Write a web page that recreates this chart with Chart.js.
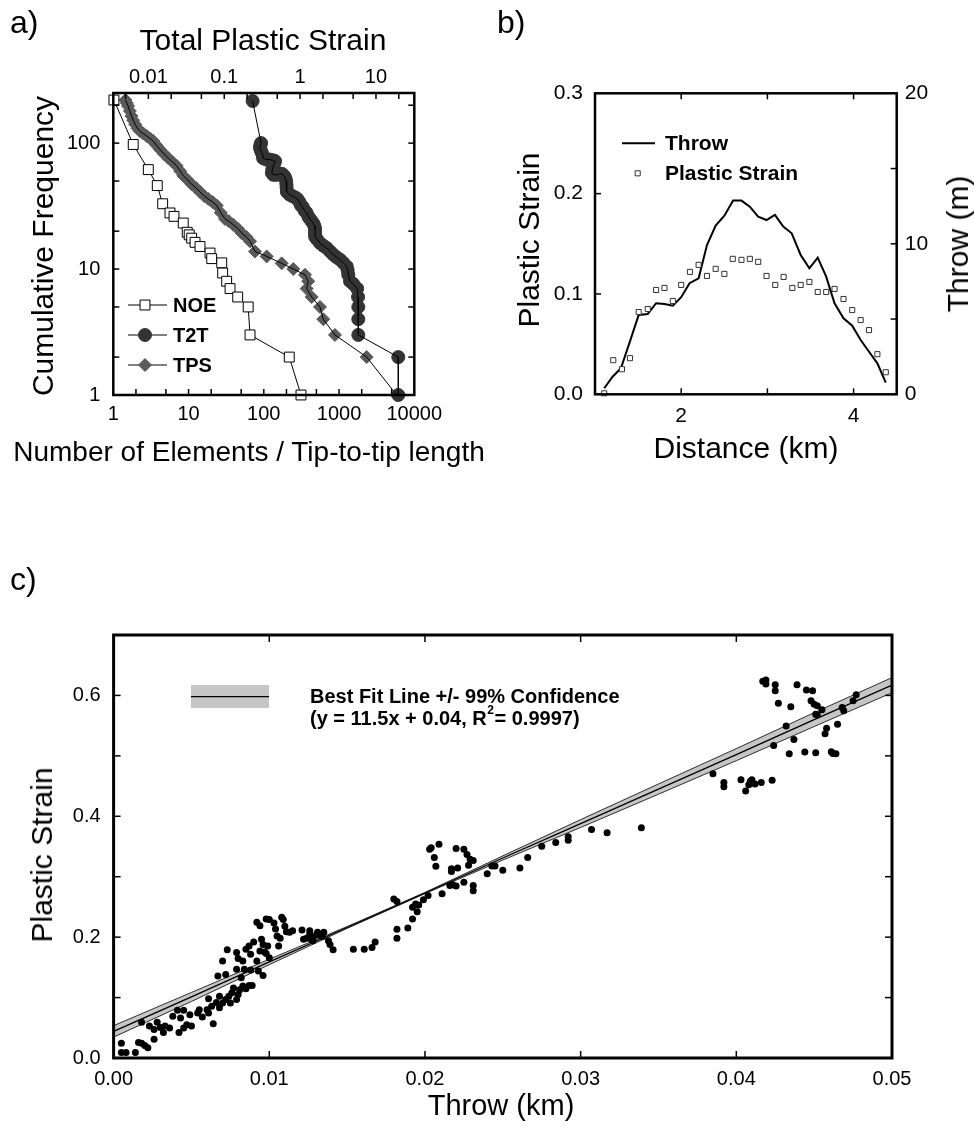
<!DOCTYPE html>
<html>
<head>
<meta charset="utf-8">
<script src="https://cdn.jsdelivr.net/npm/chart.js@4.4.1/dist/chart.umd.min.js"></script>
<style>
  body { margin: 0; background: #fff; }
  #wrap { position: relative; width: 974px; height: 1131px; font-family: 'Liberation Sans', Arial, sans-serif; color: #000; }
  canvas { position: absolute; }
  .lbl { position: absolute; white-space: nowrap; font-size: 32px; line-height: 32px; }
  .ttl { position: absolute; white-space: nowrap; font-size: 30px; line-height: 30px; transform: translate(-50%, -50%); }
  .rot { transform: translate(-50%, -50%) rotate(-90deg); }
</style>
</head>
<body>
<div id="wrap">
  <canvas id="ca" width="480" height="470" style="left:0;top:0"></canvas>
  <canvas id="cb" width="494" height="470" style="left:480px;top:0"></canvas>
  <canvas id="cc" width="974" height="571" style="left:0;top:560px"></canvas>

  <div class="lbl" style="left:10px;top:6px">a)</div>
  <div class="lbl" style="left:497px;top:6px">b)</div>
  <div class="lbl" style="left:10px;top:563px">c)</div>

  <div class="ttl" style="left:263px;top:40px">Total Plastic Strain</div>
  <div class="ttl rot" style="left:43px;top:246px">Cumulative Frequency</div>
  <div class="ttl" style="left:249px;top:452px;font-size:28px">Number of Elements / Tip-to-tip length</div>

  <div class="ttl rot" style="left:529px;top:240px">Plastic Strain</div>
  <div class="ttl rot" style="left:958px;top:244px">Throw (m)</div>
  <div class="ttl" style="left:746px;top:448px">Distance (km)</div>

  <div class="ttl rot" style="left:42px;top:855px">Plastic Strain</div>
  <div class="ttl" style="left:501px;top:1105px;font-size:29px">Throw (km)</div>
</div>

<script>
// ---- a) cumulative frequency ----
const noeX = [1.02, 1.84, 2.92, 3.84, 4.53, 5.67, 6.41, 8.5, 9.6, 10.2, 11, 12.2, 14.2, 19.3, 20.3, 27.6, 28.4, 32.1, 35.6, 45, 62, 65.6, 218, 312];
const noeY = [220, 97.5, 61.6, 46, 33, 27.9, 26.2, 23.2, 19.6, 18.7, 17.6, 16.3, 15.1, 13.4, 12.1, 11.2, 9.3, 8, 7, 6, 5, 3, 2, 1];

const t2tX = [71, 92, 90, 89, 91, 94, 97, 98, 108, 120, 133, 141, 138, 134, 130, 128, 134, 148, 162, 175,
  186, 193, 198, 200, 201, 203, 220, 240, 262, 280, 298, 312, 330, 350, 370, 392, 411, 432, 455, 470,
  479, 480, 479, 482, 510, 558, 620, 685, 760, 840, 930, 1030, 1140, 1264, 1300, 1327, 1400, 1550, 1740, 1790,
  1803, 1803, 1803, 6130, 6130];
const t2tY = [216, 100, 96, 92, 88, 84, 80, 76, 74, 74, 73, 72, 69, 66, 62, 58, 56, 56, 57, 57,
  55, 53, 50, 47, 44, 41, 39, 38, 37, 36, 34, 32, 31, 29, 28, 26, 25, 24, 23, 22,
  21, 20, 19, 18, 17.2, 16.1, 15.3, 14.7, 13.8, 13, 12.4, 11.9, 11.2, 10.5, 9.8, 9, 8, 7.6, 7, 6,
  5, 4, 3, 2, 1];

// total plastic strain (top axis)
const tpsX = [0.0050, 0.0052, 0.0054, 0.0057, 0.0060, 0.0063, 0.0067, 0.0072, 0.0078, 0.0086,
  0.0095, 0.0105, 0.0116, 0.0128, 0.0142, 0.0161, 0.0183, 0.0208, 0.0236, 0.0262,
  0.0289, 0.0330, 0.0373, 0.0425, 0.0479, 0.0545, 0.0617, 0.0705, 0.0796, 0.090,
  0.1024, 0.115, 0.1317, 0.150, 0.170, 0.195, 0.219, 0.2545, 0.363, 0.572,
  0.813, 1.16, 1.28, 1.22, 1.42, 1.83, 2.02, 2.88, 7.55, 18.75];
const tpsY = [220, 208, 197, 180, 164, 152, 141, 131, 124, 119,
  114, 109, 104, 96, 89, 82, 76, 71, 66, 60,
  55, 51, 47, 44, 41, 38, 36, 34, 32, 28,
  25, 24, 22.5, 21, 19.3, 18, 16.6, 13.8, 12.6, 11.1,
  10, 9, 8, 7, 6, 5, 4, 3, 2, 1];

const elemTicks = [1, 2, 5, 10, 20, 50, 100, 200, 500, 1000, 2000, 5000, 10000];
const elemLabels = [1, 10, 100, 1000, 10000];
const strainTicks = [0.005, 0.01, 0.02, 0.05, 0.1, 0.2, 0.5, 1, 2, 5, 10, 20];
const strainLabels = [0.01, 0.1, 1, 10];
const freqTicks = [1, 2, 5, 10, 20, 50, 100, 200];
const freqLabels = [1, 10, 100];

// ---- b) profile along fault ----
const distS = [1.107, 1.212, 1.313, 1.406, 1.507, 1.612, 1.709, 1.806, 1.903, 2.0, 2.101, 2.202, 2.299, 2.4, 2.501, 2.598, 2.699,
  2.796, 2.893, 2.99, 3.091, 3.188, 3.289, 3.386, 3.487, 3.584, 3.682, 3.779, 3.883, 3.984, 4.082, 4.179, 4.276, 4.373];
const strainB = [0.001, 0.034, 0.025, 0.036, 0.082, 0.085, 0.104, 0.106, 0.093, 0.109, 0.122, 0.129, 0.118, 0.125, 0.120, 0.135, 0.134,
  0.135, 0.132, 0.118, 0.109, 0.117, 0.106, 0.109, 0.112, 0.102, 0.102, 0.105, 0.095, 0.084, 0.074, 0.064, 0.040, 0.022];
const distT = [1.107, 1.204, 1.301, 1.417, 1.507, 1.612, 1.709, 1.806, 1.903, 2.0, 2.097, 2.202, 2.299, 2.4, 2.501, 2.602, 2.699,
  2.796, 2.893, 2.99, 3.087, 3.184, 3.282, 3.386, 3.487, 3.584, 3.682, 3.779, 3.883, 3.984, 4.082, 4.179, 4.276, 4.373];
const throwM = [0.40, 1.17, 1.73, 3.72, 5.27, 5.34, 6.05, 6.00, 5.89, 6.45, 7.38, 7.71, 9.92, 11.21, 11.87, 12.87, 12.87,
  12.47, 11.80, 11.58, 11.92, 11.14, 10.70, 9.26, 8.37, 9.08, 7.82, 6.05, 5.05, 4.56, 3.61, 2.83, 2.06, 0.78];
const distTicks = [1, 2, 3, 4];
const distLabels = [2, 4];
const strainBTicks = [0, 0.1, 0.2, 0.3];
const throwTicks = [0, 5, 10, 15, 20];
const throwLabels = [0, 10, 20];

// ---- c) plastic strain vs throw ----
const cx = [
  0.0005, 0.0005, 0.0008, 0.0014, 0.0016, 0.0018, 0.0020, 0.0022, 0.0018, 0.0023,
  0.0026, 0.0026, 0.0028, 0.0030, 0.0032, 0.0033, 0.0036, 0.0038, 0.0041, 0.0042,
  0.0043, 0.0045, 0.0045, 0.0047, 0.0049, 0.0050, 0.0054, 0.0055, 0.0057, 0.0060,
  0.0061, 0.0061, 0.0063, 0.0064, 0.0066, 0.0068, 0.0068, 0.0070, 0.0072, 0.0074,
  0.0075, 0.0076, 0.0077, 0.0079, 0.0080, 0.0081, 0.0083, 0.0085, 0.0087, 0.0089,
  0.0070, 0.0073, 0.0067, 0.0072, 0.0079, 0.0079, 0.0080, 0.0082, 0.0083, 0.0084,
  0.0085, 0.0087, 0.0088, 0.0088, 0.0090, 0.0092, 0.0093, 0.0094, 0.0096, 0.0095,
  0.0096, 0.0097, 0.0098, 0.0099, 0.0100, 0.0092, 0.0094, 0.0098, 0.0100, 0.0103,
  0.0104, 0.0105, 0.0106, 0.0107, 0.0108, 0.0109, 0.0110, 0.0111, 0.0113, 0.0115,
  0.0121, 0.0122, 0.0124, 0.0126, 0.0126, 0.0127, 0.0128, 0.0130, 0.0131, 0.0134,
  0.0135, 0.0138, 0.0139, 0.0141,
  0.0154, 0.0161, 0.0166, 0.0168, 0.0182, 0.0182, 0.0189, 0.0192, 0.0180, 0.0182,
  0.0192, 0.0194, 0.0196, 0.0195, 0.0199, 0.0202, 0.0211, 0.0216, 0.0218, 0.0220,
  0.0225, 0.0231, 0.0231, 0.0204, 0.0203, 0.0209, 0.0206, 0.0207, 0.0217, 0.0217,
  0.0221, 0.0220, 0.0225, 0.0227, 0.0229, 0.0231, 0.0228, 0.0240, 0.0243, 0.0245,
  0.0250, 0.0261, 0.0266, 0.0275, 0.0284, 0.0292, 0.0292, 0.0307, 0.0317,
  0.0339, 0.0385, 0.0392, 0.0392, 0.0403, 0.0406, 0.0408, 0.0409, 0.0410, 0.0412,
  0.0416, 0.0423, 0.0417, 0.0419, 0.0419, 0.0425, 0.0425, 0.0427, 0.0435, 0.0439,
  0.0445, 0.0449, 0.0448, 0.0450, 0.0452, 0.0451, 0.0452, 0.0455, 0.0432, 0.0437,
  0.0424, 0.0434, 0.0444, 0.0451, 0.0461, 0.0462, 0.0464, 0.0458, 0.0457, 0.0465,
  0.0468, 0.0469, 0.0475, 0.0477];
const cy = [
  0.0245, 0.009, 0.009, 0.009, 0.0255, 0.0245, 0.0205, 0.017, 0.059, 0.053,
  0.031, 0.047, 0.059, 0.0505, 0.042, 0.053, 0.0495, 0.069, 0.079, 0.042,
  0.066, 0.079, 0.0495, 0.055, 0.0717, 0.053, 0.0745, 0.08, 0.068, 0.08,
  0.0745, 0.098, 0.0855, 0.0567, 0.092, 0.083, 0.102, 0.091, 0.0967, 0.102,
  0.091, 0.108, 0.116, 0.0967, 0.105, 0.113, 0.119, 0.1145, 0.12, 0.12,
  0.1605, 0.179, 0.1355, 0.138, 0.1467, 0.1745, 0.1645, 0.133, 0.1605, 0.1467,
  0.18, 0.1855, 0.1717, 0.1455, 0.192, 0.1605, 0.144, 0.177, 0.1367, 0.1967,
  0.188, 0.1755, 0.173, 0.1855, 0.166, 0.2245, 0.219, 0.23, 0.229, 0.2233,
  0.2133, 0.202, 0.1855, 0.198, 0.233, 0.229, 0.218, 0.209, 0.208, 0.2105,
  0.2117, 0.1967, 0.198, 0.2105, 0.205, 0.1967, 0.194, 0.2033, 0.208, 0.201,
  0.208, 0.194, 0.188, 0.179,
  0.18, 0.18, 0.183, 0.192, 0.198, 0.213, 0.215, 0.23, 0.2633, 0.259,
  0.2495, 0.255, 0.2533, 0.242, 0.2617, 0.269, 0.2717, 0.2855, 0.2867, 0.2845,
  0.291, 0.2855, 0.2767, 0.3478, 0.3455, 0.3538, 0.3317, 0.3172, 0.3133, 0.3088,
  0.3145, 0.3467, 0.3455, 0.3367, 0.3288, 0.327, 0.3188, 0.305, 0.3178, 0.3178,
  0.3105, 0.3145, 0.3317, 0.3505, 0.3567, 0.3605, 0.3662, 0.3783, 0.3728,
  0.381, 0.4705, 0.456, 0.449, 0.4605, 0.442, 0.452, 0.458, 0.4605, 0.4533,
  0.456, 0.4595, 0.6233, 0.6255, 0.6188, 0.6178, 0.6078, 0.5872, 0.5812, 0.6178,
  0.6088, 0.6078, 0.5912, 0.5855, 0.5828, 0.5688, 0.5678, 0.5762, 0.5495, 0.5272,
  0.5172, 0.5033, 0.5062, 0.505, 0.5067, 0.5038, 0.5033, 0.5455, 0.5367, 0.5522,
  0.58, 0.5745, 0.5912, 0.6012];

// best fit line and 99% band
const fitX = [0, 0.005, 0.01, 0.015, 0.02, 0.025, 0.03, 0.035, 0.04, 0.045, 0.05];
const fitMid = [0.044, 0.101, 0.159, 0.216, 0.273, 0.331, 0.388, 0.445, 0.502, 0.560, 0.617];
const fitUpper = [0.0535, 0.1085, 0.1635, 0.2175, 0.274, 0.3345, 0.3945, 0.4535, 0.512, 0.5715, 0.6295];
const fitLower = [0.0345, 0.0935, 0.1545, 0.2145, 0.272, 0.3275, 0.3815, 0.4365, 0.492, 0.5485, 0.6045];
const throwTicksC = [0, 0.01, 0.02, 0.03, 0.04, 0.05];
const strainTicksC = [0, 0.1, 0.2, 0.3, 0.4, 0.5, 0.6, 0.7];
const strainLabelsC = [0, 0.2, 0.4, 0.6];

const FONT = "'Liberation Sans', Arial, sans-serif";
Chart.defaults.font.family = FONT;
Chart.defaults.color = '#000';

const pts = (xs, ys) => xs.map((x, i) => ({ x: x, y: ys[i] }));

// frame + inward tick marks
const frame = {
  id: 'frame',
  afterDatasetsDraw(chart, args, o) {
    const { ctx, chartArea: a } = chart;
    ctx.save();
    ctx.strokeStyle = '#000';
    ctx.lineWidth = o.tickWidth;
    for (const [id, sides] of Object.entries(o.sides)) {
      const s = chart.scales[id];
      s.ticks.forEach(t => {
        const p = s.getPixelForValue(t.value);
        sides.forEach(side => {
          const horiz = side === 'top' || side === 'bottom';
          if (horiz && (p < a.left + 2 || p > a.right - 2)) return;
          if (!horiz && (p < a.top + 2 || p > a.bottom - 2)) return;
          ctx.beginPath();
          if (side === 'bottom') { ctx.moveTo(p, a.bottom); ctx.lineTo(p, a.bottom - o.len); }
          if (side === 'top') { ctx.moveTo(p, a.top); ctx.lineTo(p, a.top + o.len); }
          if (side === 'left') { ctx.moveTo(a.left, p); ctx.lineTo(a.left + o.len, p); }
          if (side === 'right') { ctx.moveTo(a.right, p); ctx.lineTo(a.right - o.len, p); }
          ctx.stroke();
        });
      });
    }
    ctx.lineWidth = o.width;
    ctx.strokeRect(a.left, a.top, a.right - a.left, a.bottom - a.top);
    ctx.restore();
  }
};

function marker(ctx, style, x, y, r, fill, stroke) {
  ctx.beginPath();
  if (style === 'rect') ctx.rect(x - r * 0.707, y - r * 0.707, r * 1.414, r * 1.414);
  else if (style === 'rectRot') { ctx.moveTo(x, y - r); ctx.lineTo(x + r, y); ctx.lineTo(x, y + r); ctx.lineTo(x - r, y); ctx.closePath(); }
  else ctx.arc(x, y, r, 0, Math.PI * 2);
  ctx.fillStyle = fill; ctx.fill();
  ctx.strokeStyle = stroke; ctx.lineWidth = 1; ctx.stroke();
}

function fixedTicks(list) {
  return s => { s.ticks = list.map(v => ({ value: v })); };
}

const noGrid = { display: false, drawTicks: false };

const baseOpts = {
  responsive: false,
  animation: false,
  events: [],
  plugins: { legend: { display: false }, tooltip: { enabled: false } }
};

// ---------- panel a ----------
new Chart(document.getElementById('ca'), {
  type: 'scatter',
  data: {
    datasets: [
      { label: 'T2T', data: pts(t2tX, t2tY), showLine: true, borderColor: '#000', borderWidth: 1, pointRadius: 0, clip: false, xAxisID: 'x', yAxisID: 'y' },
      { label: 'TPS', data: pts(tpsX, tpsY), showLine: true, borderColor: '#000', borderWidth: 1, pointRadius: 0, clip: false, xAxisID: 'x2', yAxisID: 'y' },
      { label: 'NOE', data: pts(noeX, noeY), showLine: true, borderColor: '#000', borderWidth: 1,
        pointStyle: 'rect', pointRadius: 7, pointBackgroundColor: '#fff', pointBorderColor: '#000', pointBorderWidth: 1, clip: false, xAxisID: 'x', yAxisID: 'y' },
      { label: 'T2T', data: pts(t2tX, t2tY), pointRadius: 6.5, pointBackgroundColor: '#333', pointBorderColor: '#333', pointBorderWidth: 1, clip: false, xAxisID: 'x', yAxisID: 'y' },
      { label: 'TPS', data: pts(tpsX, tpsY), pointStyle: 'rectRot', pointRadius: 6.5, pointBackgroundColor: '#5a5a5a', pointBorderColor: '#5a5a5a', pointBorderWidth: 1, clip: false, xAxisID: 'x2', yAxisID: 'y' }
    ]
  },
  options: {
    ...baseOpts,
    layout: { padding: { left: 0, top: 0, bottom: 0, right: 65.7 } },
    scales: {
      x: {
        type: 'logarithmic', position: 'bottom', min: 1, max: 10000,
        grid: noGrid, border: { display: false },
        afterBuildTicks: fixedTicks(elemTicks), afterFit: s => { s.height = 75; },
        ticks: { autoSkip: false, maxRotation: 0, padding: 7, font: { size: 20 }, callback: v => elemLabels.includes(v) ? String(v) : '' }
      },
      x2: {
        type: 'logarithmic', position: 'top', min: 0.00345, max: 32,
        grid: noGrid, border: { display: false },
        afterBuildTicks: fixedTicks(strainTicks), afterFit: s => { s.height = 93; },
        ticks: { autoSkip: false, maxRotation: 0, padding: 4, font: { size: 20 }, callback: v => strainLabels.includes(v) ? String(v) : '' }
      },
      y: {
        type: 'logarithmic', position: 'left', min: 1, max: 250,
        grid: noGrid, border: { display: false },
        afterBuildTicks: fixedTicks(freqTicks), afterFit: s => { s.width = 113.3; },
        ticks: { autoSkip: false, padding: 13, font: { size: 20 }, callback: v => freqLabels.includes(v) ? String(v) : '' }
      }
    },
    plugins: { ...baseOpts.plugins, frame: { sides: { x: ['bottom'], x2: ['top'], y: ['left', 'right'] }, len: 6, tickWidth: 1.5, width: 2.5 } }
  },
  plugins: [frame, {
    id: 'legendA',
    afterDraw(chart) {
      const ctx = chart.ctx;
      const ds = chart.data.datasets;
      const items = [
        { y: 305, d: ds[2] },
        { y: 335, d: ds[3] },
        { y: 365, d: ds[4] }
      ];
      ctx.save();
      items.forEach(it => {
        ctx.beginPath();
        ctx.moveTo(128, it.y); ctx.lineTo(167, it.y);
        ctx.strokeStyle = '#000'; ctx.lineWidth = 1; ctx.stroke();
        marker(ctx, it.d.pointStyle || 'circle', 145, it.y, it.d.pointRadius, it.d.pointBackgroundColor, it.d.pointBorderColor);
        ctx.fillStyle = '#000';
        ctx.font = 'bold 20px ' + FONT;
        ctx.textBaseline = 'middle';
        ctx.fillText(it.d.label, 173, it.y + 1);
      });
      ctx.restore();
    }
  }]
});

// ---------- panel b ----------
new Chart(document.getElementById('cb'), {
  type: 'scatter',
  data: {
    datasets: [
      { label: 'Plastic Strain', data: pts(distS, strainB), pointStyle: 'rect', pointRadius: 3.6,
        pointBackgroundColor: '#fff', pointBorderColor: '#333', pointBorderWidth: 1, clip: false, xAxisID: 'x', yAxisID: 'y' },
      { label: 'Throw', data: pts(distT, throwM), showLine: true, borderColor: '#000', borderWidth: 2, pointRadius: 0, clip: false, xAxisID: 'x', yAxisID: 'y2' }
    ]
  },
  options: {
    ...baseOpts,
    layout: { padding: { left: 0, top: 93.3, bottom: 0, right: 0 } },
    scales: {
      x: {
        type: 'linear', position: 'bottom', min: 1, max: 4.5,
        grid: noGrid, border: { display: false },
        afterBuildTicks: fixedTicks(distTicks), afterFit: s => { s.height = 75.7; },
        ticks: { autoSkip: false, maxRotation: 0, padding: 9, font: { size: 21 }, callback: v => distLabels.includes(v) ? String(v) : '' }
      },
      y: {
        type: 'linear', position: 'left', min: 0, max: 0.3,
        grid: noGrid, border: { display: false },
        afterBuildTicks: fixedTicks(strainBTicks), afterFit: s => { s.width = 115; },
        ticks: { autoSkip: false, padding: 12, font: { size: 21 }, callback: v => v.toFixed(1) }
      },
      y2: {
        type: 'linear', position: 'right', min: 0, max: 20,
        grid: noGrid, border: { display: false },
        afterBuildTicks: fixedTicks(throwTicks), afterFit: s => { s.width = 77.3; },
        ticks: { autoSkip: false, padding: 8, font: { size: 21 }, callback: v => throwLabels.includes(v) ? String(v) : '' }
      }
    },
    plugins: { ...baseOpts.plugins, frame: { sides: { x: ['bottom', 'top'], y: ['left'], y2: ['right'] }, len: 6, tickWidth: 1.5, width: 2.5 } }
  },
  plugins: [frame, {
    id: 'legendB',
    afterDraw(chart) {
      const ctx = chart.ctx;
      const ds = chart.data.datasets;
      ctx.save();
      ctx.beginPath();
      ctx.moveTo(142, 143.3); ctx.lineTo(175, 143.3);
      ctx.strokeStyle = '#000'; ctx.lineWidth = 2; ctx.stroke();
      marker(ctx, 'rect', 157.7, 173.3, ds[0].pointRadius, '#fff', '#333');
      ctx.fillStyle = '#000';
      ctx.font = 'bold 21px ' + FONT;
      ctx.textBaseline = 'middle';
      ctx.fillText(ds[1].label, 185, 144);
      ctx.fillText(ds[0].label, 185, 174);
      ctx.restore();
    }
  }]
});

// ---------- panel c ----------
new Chart(document.getElementById('cc'), {
  type: 'scatter',
  data: {
    datasets: [
      { label: 'data', data: pts(cx, cy), pointRadius: 3.5, pointBackgroundColor: '#000', pointBorderColor: '#000', pointBorderWidth: 0, clip: false },
      { label: 'Best Fit Line', data: pts(fitX, fitMid), showLine: true, borderColor: '#000', borderWidth: 1.3, pointRadius: 0, clip: false },
      { label: 'upper', data: pts(fitX, fitUpper), showLine: true, borderColor: '#000', borderWidth: 0.8, pointRadius: 0, fill: '+1', backgroundColor: '#c6c6c6', clip: false },
      { label: 'lower', data: pts(fitX, fitLower), showLine: true, borderColor: '#000', borderWidth: 0.8, pointRadius: 0, clip: false }
    ]
  },
  options: {
    ...baseOpts,
    layout: { padding: { left: 0, top: 75, bottom: 0, right: 82 } },
    scales: {
      x: {
        type: 'linear', position: 'bottom', min: 0, max: 0.05,
        grid: noGrid, border: { display: false },
        afterBuildTicks: fixedTicks(throwTicksC), afterFit: s => { s.height = 73; },
        ticks: { autoSkip: false, maxRotation: 0, padding: 9, font: { size: 20 }, callback: v => v.toFixed(2) }
      },
      y: {
        type: 'linear', position: 'left', min: 0, max: 0.7,
        grid: noGrid, border: { display: false },
        afterBuildTicks: fixedTicks(strainTicksC), afterFit: s => { s.width = 113.6; },
        ticks: { autoSkip: false, padding: 13, font: { size: 20 }, callback: v => strainLabelsC.includes(v) ? v.toFixed(1) : '' }
      }
    },
    plugins: {
      ...baseOpts.plugins,
      filler: { drawTime: 'beforeDatasetsDraw' },
      frame: { sides: { x: ['bottom', 'top'], y: ['left', 'right'] }, len: 7, tickWidth: 1.5, width: 3 }
    }
  },
  plugins: [frame, {
    id: 'legendC',
    afterDraw(chart) {
      const ctx = chart.ctx;
      ctx.save();
      ctx.fillStyle = '#c6c6c6';
      ctx.fillRect(191, 125, 78, 23);
      ctx.beginPath();
      ctx.moveTo(191, 136.7); ctx.lineTo(269, 136.7);
      ctx.strokeStyle = '#000'; ctx.lineWidth = 1.3; ctx.stroke();
      ctx.fillStyle = '#000';
      ctx.textBaseline = 'middle';
      ctx.font = 'bold 20px ' + FONT;
      ctx.fillText('Best Fit Line +/- 99% Confidence', 310, 137);
      const a = '(y = 11.5x + 0.04, R';
      ctx.fillText(a, 310, 159);
      let x = 310 + ctx.measureText(a).width;
      ctx.font = 'bold 12px ' + FONT;
      ctx.fillText('2', x + 0.5, 151);
      x += ctx.measureText('2').width + 1;
      ctx.font = 'bold 20px ' + FONT;
      ctx.fillText('= 0.9997)', x, 159);
      ctx.restore();
    }
  }]
});
</script>
</body>
</html>
